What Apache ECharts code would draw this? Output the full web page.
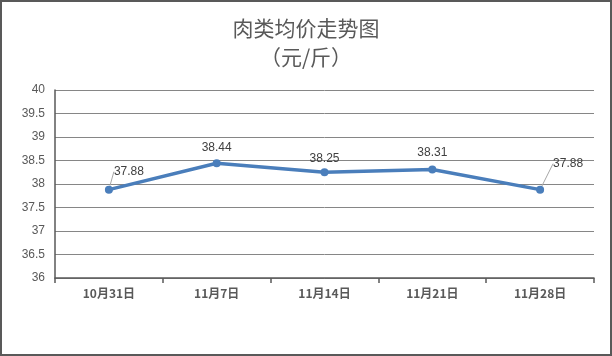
<!DOCTYPE html>
<html><head><meta charset="utf-8">
<script src="https://cdn.jsdelivr.net/npm/echarts@6/dist/echarts.min.js"></script>
<style>html,body{margin:0;padding:0;background:#fff}#c{width:612px;height:356px;box-sizing:border-box;border:2px solid #595959}</style>
</head><body><div id="c"></div>
<script>
const categories = ['10月31日','11月7日','11月14日','11月21日','11月28日'];
const prices = [37.88, 38.44, 38.25, 38.31, 37.88];
const titleText = '肉类均价走势图\n（元/斤）';
const labelShift = [[20,-18],[0,-16],[0,-14],[0,-17],[28,-26]];

const chart = echarts.init(document.getElementById('c'));
chart.setOption({
  animation:false,
  title:{text:titleText,left:'center',top:7,textStyle:{fontFamily:'Noto Sans CJK SC',fontSize:21,fontWeight:'normal',color:'#595959',lineHeight:29}},
  grid:{left:53,right:16,top:88,bottom:76},
  xAxis:{type:'category',data:categories,boundaryGap:true,
    axisLine:{lineStyle:{color:'#595959',width:1.5}},
    axisTick:{show:true,length:5,lineStyle:{color:'#595959',width:1.5}},
    axisLabel:{color:'#595959',fontSize:12,fontWeight:'bold',fontFamily:'Noto Sans CJK SC',margin:9}},
  yAxis:{type:'value',min:36,max:40,interval:0.5,
    axisLine:{show:true,lineStyle:{color:'#595959',width:1.5}},
    axisTick:{show:false},
    splitLine:{lineStyle:{color:'#868686',width:1}},
    axisLabel:{color:'#595959',fontSize:12,fontFamily:'Liberation Sans',margin:10}},
  series:[{type:'line',data:prices.map((v,i)=>({value:v,labelLine:{show:i===0||i===4,lineStyle:{color:'#a6a6a6',width:1}}})),
    lineStyle:{color:'#4a7ebb',width:3.5},
    itemStyle:{color:'#4a7ebb'},symbol:'circle',symbolSize:8,
    label:{show:true,position:'inside',color:'#404040',fontSize:12,fontFamily:'Liberation Sans',
      formatter:p=>p.value.toFixed(2)},
    labelLayout:function(params){const s=labelShift[params.dataIndex];return {dx:s[0],dy:s[1]};}
  }]
});
</script></body></html>
